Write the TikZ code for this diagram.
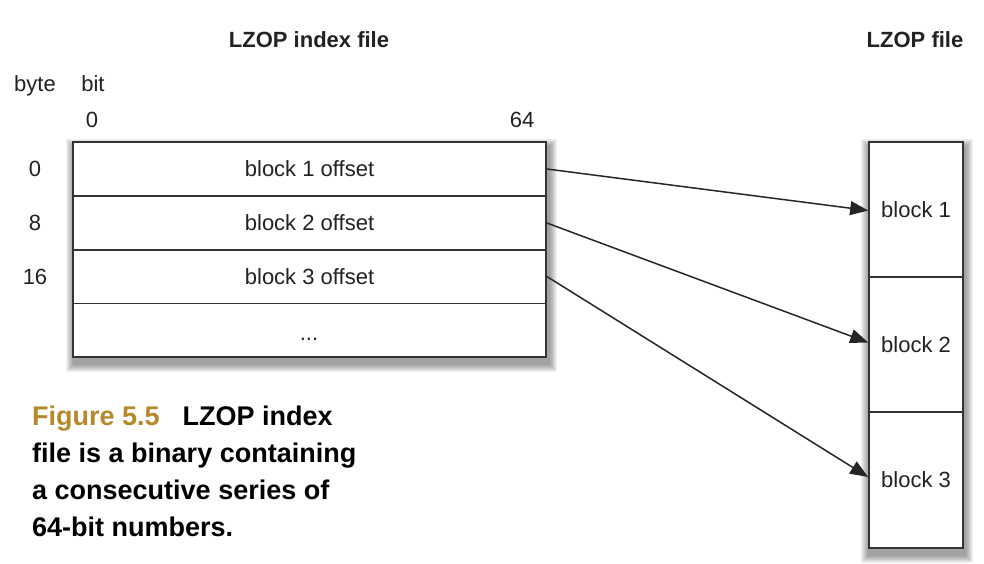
\documentclass[tikz,border=0pt]{standalone}
\usepackage{fontspec}
\setmainfont{Liberation Sans}
\usetikzlibrary{arrows.meta,backgrounds}
\definecolor{linegray}{HTML}{333333}
\definecolor{txtgray}{HTML}{222222}
\definecolor{figgold}{HTML}{B5892B}
\begin{document}
\begin{tikzpicture}[x=1pt,y=-1pt,
  lbl/.style={inner sep=0pt, text=txtgray, font=\fontsize{22}{26}\selectfont},
  hdr/.style={inner sep=0pt, text=txtgray, font=\fontsize{22}{26}\selectfont\bfseries},
  rowbox/.style={draw=linegray, line width=1.7pt, minimum width=473pt, minimum height=54pt, inner sep=0pt, text=txtgray, font=\fontsize{22}{26}\selectfont},
  blkbox/.style={draw=linegray, line width=1.7pt, minimum width=94pt, minimum height=135pt, inner sep=0pt, text=txtgray, font=\fontsize{22}{26}\selectfont},
  outerbox/.style={draw=linegray, line width=1.7pt, fill=white, inner sep=0pt},
  shadelayer/.style={fill=black, opacity=0.055},
  flowline/.style={draw=black!85, line width=1.5pt, arrows={-Triangle[length=18pt, width=14pt]}},
  captxt/.style={inner sep=0pt, anchor=base west, font=\fontsize{27}{37}\selectfont\bfseries}
]
\useasboundingbox (0,0) rectangle (984,564);

% headers
\node[hdr, anchor=base] (hidx) at (309,48) {LZOP index file};
\node[hdr, anchor=base] (hfile) at (915,48) {LZOP file};
\node[lbl, anchor=base] (hbyte) at (35,92) {byte};
\node[lbl, anchor=base] (hbit) at (93,92) {bit};
\node[lbl, anchor=base] (b0) at (92,128) {0};
\node[lbl, anchor=base] (b64) at (522,128) {64};
\node[lbl, anchor=base] (y0) at (35,176) {0};
\node[lbl, anchor=base] (y8) at (35,230) {8};
\node[lbl, anchor=base] (y16) at (35,284) {16};

% index file
\node[outerbox, minimum width=473pt, minimum height=215pt] (idx) at (309.5,249.5) {};
\node[rowbox] (r1) at (309.5,169) {block 1 offset};
\node[rowbox] (r2) at (309.5,223) {block 2 offset};
\node[rowbox] (r3) at (309.5,276.5) {block 3 offset};
\node[rowbox] (r4) at (309.5,330.5) {};
\node[lbl, anchor=base] (dots) at (309,340) {...};

% LZOP file
\node[outerbox, minimum width=94pt, minimum height=406pt] (lf) at (916,345) {};
\node[blkbox] (k1) at (916,209.5) {block 1};
\node[blkbox] (k2) at (916,344.5) {block 2};
\node[blkbox] (k3) at (916,480) {block 3};

% soft shadows
\begin{scope}[on background layer]
\foreach \e in {1,...,8} {
  \fill[shadelayer] ([shift={(-\e+2,-\e+6)}]idx.north west) rectangle ([shift={(\e+2,\e+6)}]idx.south east);
  \fill[shadelayer] ([shift={(-\e+1,-\e+6)}]lf.north west) rectangle ([shift={(\e+1,\e+6)}]lf.south east);
}
\end{scope}

% connectors
\draw[flowline] (r1.east) -- ([yshift=-1pt]k1.west);
\draw[flowline] (r2.east) -- ([yshift=2pt]k2.west);
\draw[flowline] (r3.east) -- ([yshift=3pt]k3.west);

% caption
\node[captxt] (c1) at (32,425) {\textcolor{figgold}{Figure 5.5}\hspace{23pt}LZOP index};
\node[captxt] (c2) at (32,462) {file is a binary containing};
\node[captxt] (c3) at (32,499) {a consecutive series of};
\node[captxt] (c4) at (32,536) {64-bit numbers.};
\end{tikzpicture}
\end{document}
